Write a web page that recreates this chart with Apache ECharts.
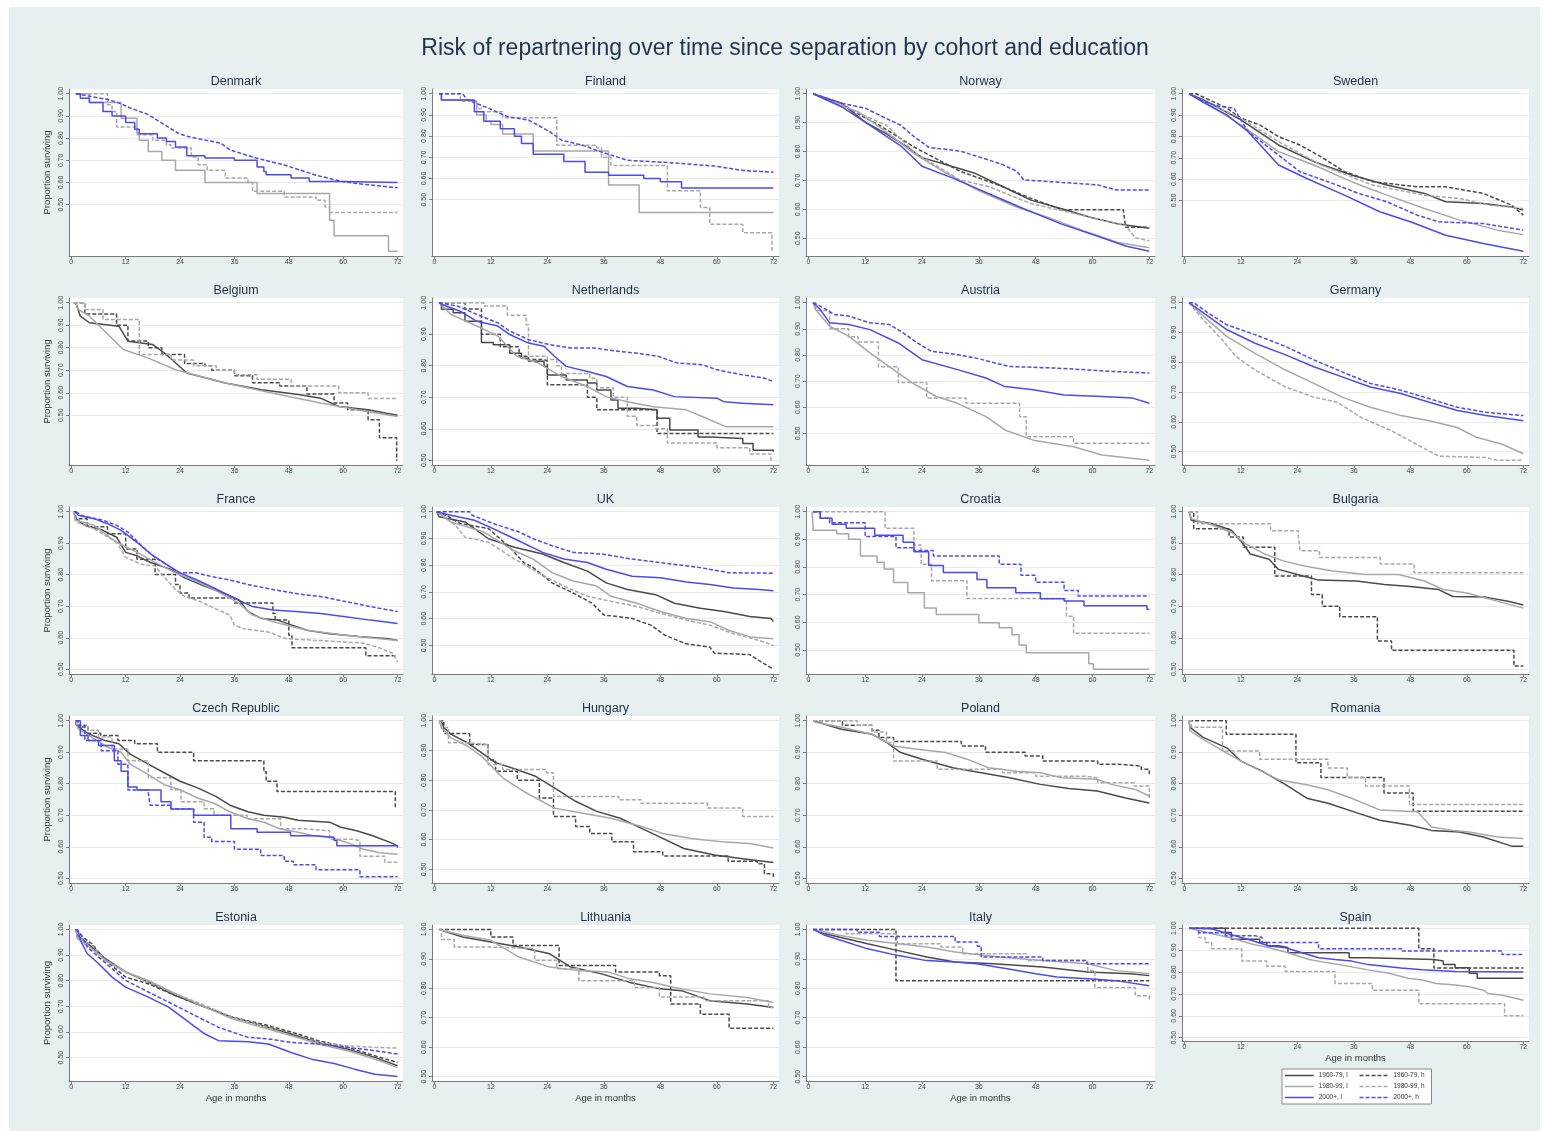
<!DOCTYPE html>
<html>
<head>
<meta charset="utf-8">
<script src="https://cdn.jsdelivr.net/npm/echarts@6/dist/echarts.min.js"></script>
<style>
  html, body { margin: 0; padding: 0; background: #ffffff; }
  #bg { position: absolute; left: 9px; top: 7px; width: 1531px; height: 1124px; background: #e8eff1; }
  #chart { position: absolute; left: 0; top: 0; width: 1544px; height: 1132px; }
</style>
</head>
<body>
<div id="bg"></div>
<div id="chart"></div>
<script>
// Kaplan-Meier survival (proportion not yet repartnered), [month, proportion]
// Suffix: 60 = 1960-79, 80 = 1980-99, 00 = 2000+; l = low, h = high education

// Denmark
const dk_80l = [[1,1],[4,.96],[11,.89],[14.5,.82],[15,.79],[17,.74],[20,.70],[23,.655],[29.5,.60],[41,.55],[57,.43],[58,.36],[70,.29],[72,.29]];
const dk_80h = [[1,1],[8,.95],[9,.92],[10,.85],[14.5,.815],[18,.79],[21,.77],[22,.755],[26.5,.715],[28,.68],[30,.655],[34,.62],[39,.60],[40,.56],[47,.535],[54,.52],[56,.49],[57,.465],[72,.465]];
const dk_00l = [[1,1],[2,.98],[4,.96],[7,.92],[9,.90],[12,.87],[14,.84],[15,.82],[19,.80],[21,.785],[23,.76],[25.5,.72],[29.5,.71],[36,.70],[41,.67],[42.5,.65],[43,.635],[48.5,.62],[52.5,.605],[60,.60],[72,.60]];
const dk_00h = [[1,1],[8,.974],[11,.955],[13,.936],[17,.906],[20.5,.861],[23.5,.823],[25.5,.808],[33,.777],[35,.747],[41,.709],[47,.679],[54,.633],[60,.603],[64.5,.592],[72,.576]];

// Finland
const fi_80l = [[1,1],[1.5,.97],[7.5,.965],[9,.90],[11,.87],[12,.855],[14.5,.81],[21,.73],[37,.57],[43.5,.44],[72,.44]];
const fi_80h = [[1,1],[5.5,.965],[9,.93],[10,.915],[14.5,.887],[26,.757],[34.5,.745],[35.5,.70],[37.5,.662],[49.5,.543],[56.5,.464],[58.5,.384],[65.5,.344],[71.7,.257],[72,.257]];
const fi_00l = [[1,1],[1.5,.97],[7.5,.97],[8.5,.915],[10.5,.87],[14,.835],[17,.80],[18.5,.765],[21,.715],[27.5,.68],[32,.63],[37,.615],[44.5,.60],[48,.585],[52.5,.555],[72,.555]];
const fi_00h = [[1,1],[6,1],[7,.971],[11.5,.932],[15.5,.892],[20,.876],[24.5,.821],[27,.781],[31.5,.757],[35.5,.725],[39.5,.697],[41,.686],[50,.675],[59.5,.659],[65.5,.638],[72,.63]];

// Norway
const no_60l = [[1,1],[7,.967],[12,.902],[16.5,.861],[21,.814],[24,.779],[29,.755],[35,.726],[41,.679],[47,.632],[53.5,.602],[59.5,.573],[65.5,.549],[72,.535]];
const no_60h = [[1,1],[7,.965],[11,.925],[15,.891],[22.5,.814],[32,.732],[41,.679],[47,.638],[53.5,.599],[66.5,.599],[67,.538],[72,.538]];
const no_80l = [[1,1],[5,.97],[10.5,.938],[16.5,.867],[22.5,.791],[29,.726],[36.5,.661],[44,.608],[50.5,.573],[58,.526],[65.5,.485],[72,.467]];
const no_80h = [[1,1],[6,.97],[11,.93],[16.5,.891],[22.5,.796],[32,.702],[38,.679],[47,.62],[53.5,.596],[62.5,.561],[67,.544],[69,.502],[72,.491]];
const no_00l = [[1,1],[7,.955],[12,.902],[19.5,.82],[24,.749],[30.5,.708],[38,.655],[45.5,.602],[53.5,.549],[61,.508],[67,.473],[72,.455]];
const no_00h = [[1,1],[7,.967],[12,.95],[16.5,.914],[19.5,.891],[22.5,.849],[25.5,.814],[32,.802],[36.5,.779],[41,.755],[44,.732],[45.5,.702],[53.5,.693],[61,.685],[65,.667],[72,.667]];

// Sweden
const se_60l = [[1,1],[4,.972],[12,.878],[20,.76],[27.5,.682],[35.5,.619],[43,.572],[51,.533],[55.5,.494],[63.5,.486],[69.5,.47],[72,.455]];
const se_60h = [[1,1],[2.5,1],[9,.933],[12,.886],[16,.854],[20,.799],[24.5,.76],[29,.705],[34,.635],[40,.588],[49.5,.564],[55.5,.564],[63.5,.533],[69.5,.478],[72,.431]];
const se_80l = [[1,1],[5,.95],[12,.854],[20,.729],[27.5,.666],[35.5,.588],[43,.525],[51,.462],[58.5,.408],[66.5,.361],[72,.34]];
const se_80h = [[1,1],[5,.955],[12,.886],[20,.776],[29,.666],[40,.572],[51,.525],[58.5,.509],[65,.478],[72,.462]];
const se_00l = [[1,1],[4,.96],[9,.901],[13.5,.823],[20,.666],[26,.603],[34,.525],[41.5,.447],[48,.40],[55.5,.337],[63.5,.298],[72,.262]];
const se_00h = [[1,1],[4,.965],[7.5,.94],[10.5,.933],[13.5,.823],[20,.713],[24.5,.635],[30.5,.588],[37,.533],[43,.494],[49.5,.431],[54,.40],[63.5,.392],[72,.361]];

// Belgium
const be_60l = [[1,1],[2,.94],[4,.911],[10.5,.896],[12.5,.829],[18,.814],[21,.769],[25.5,.688],[34,.643],[42,.613],[50.5,.591],[55,.576],[59,.539],[65.5,.524],[69.5,.509],[72,.50]];
const be_60h = [[0.5,1],[3,.95],[10,.90],[12.5,.83],[17,.80],[20,.77],[25,.73],[29.5,.72],[31,.70],[36,.675],[40,.645],[46,.63],[52,.595],[58,.555],[61,.525],[65.5,.48],[68,.40],[71.8,.30],[72,.30]];
const be_80l = [[1,1],[1.5,.97],[4,.94],[11.5,.792],[17,.754],[23,.702],[34,.643],[44.5,.598],[55,.554],[65.5,.516],[72,.494]];
const be_80h = [[0.5,1],[3,.97],[7,.926],[15,.77],[22,.745],[27,.72],[32,.70],[36,.68],[41,.66],[48.5,.63],[59,.60],[65.5,.575],[72,.575]];

// Netherlands
const nl_60l = [[1,1],[1.5,.979],[4,.968],[6.5,.941],[10,.874],[12.5,.867],[16,.84],[18.5,.824],[20,.814],[23.3,.798],[24,.771],[28,.755],[32.5,.745],[34.5,.723],[37.5,.691],[39,.665],[43,.66],[47.3,.633],[50,.596],[56,.574],[58.5,.569],[65.5,.553],[67.7,.532],[72,.527]];
const nl_60h = [[1,1],[6.5,.98],[10,.90],[14,.86],[18,.83],[20,.82],[23.3,.815],[24,.74],[32,.74],[32.5,.70],[34.5,.66],[44.5,.66],[47.3,.585],[72,.585]];
const nl_80l = [[1,1],[3.5,.963],[9,.926],[13.5,.894],[17.5,.83],[22,.809],[27,.766],[32.5,.734],[36.5,.702],[41,.686],[46.5,.67],[53.5,.66],[57,.638],[62,.606],[72,.606]];
const nl_80h = [[1,1],[10.5,.99],[15.5,.96],[19.5,.93],[20,.83],[24,.82],[26,.80],[27,.775],[33,.76],[34.5,.73],[38,.70],[41,.64],[43,.61],[47,.60],[49.5,.555],[60,.54],[67,.52],[71.5,.50],[72,.50]];
const nl_00l = [[1,1],[1.5,.995],[5.5,.973],[9,.941],[13.5,.926],[16,.899],[20,.872],[23.3,.862],[25.5,.83],[28,.798],[32.5,.782],[36.5,.766],[41,.734],[46.5,.723],[51,.702],[60,.697],[61.5,.686],[65.5,.681],[72,.676]];
const nl_00h = [[1,1],[5,.989],[9,.963],[13.5,.936],[16,.91],[20,.883],[24.5,.867],[29,.856],[34,.856],[39,.846],[43,.84],[47.5,.83],[51.5,.809],[57,.803],[60,.787],[65.5,.771],[70,.761],[72,.75]];

// Austria
const at_80l = [[1,1],[1.5,.974],[4.5,.91],[8.5,.872],[13,.808],[17,.756],[22,.692],[27,.641],[31.5,.615],[37.5,.564],[41.5,.513],[47.5,.474],[56,.449],[62,.417],[72,.397]];
const at_80h = [[1,1],[1.5,.97],[4.5,.90],[8.5,.87],[10.5,.85],[14.8,.755],[19,.695],[25,.635],[33.3,.615],[44.6,.564],[46,.487],[56,.462],[72,.462]];
const at_00l = [[1,1],[2.5,.974],[4.5,.923],[8.5,.917],[13,.897],[19,.846],[24,.782],[31.5,.744],[37.5,.712],[41.5,.679],[47.5,.667],[54,.647],[62,.641],[68.5,.635],[72,.615]];
const at_00h = [[1,1],[2.5,.987],[5.5,.955],[8.5,.949],[13,.923],[17,.917],[20,.885],[23,.846],[26,.814],[31.5,.801],[35.5,.788],[39.5,.769],[42.5,.756],[52,.75],[58,.744],[64,.737],[72,.731]];

// Germany
const de_80l = [[1,1],[4,.955],[9,.887],[15,.83],[21.5,.774],[27.5,.729],[33.5,.683],[39.5,.649],[46,.621],[52,.604],[58,.581],[62,.548],[67.5,.525],[72,.493]];
const de_80h = [[1,1],[4,.943],[8,.876],[11,.819],[15,.774],[21.5,.717],[27.5,.683],[32.5,.666],[37.5,.615],[44,.57],[50,.519],[54,.485],[64,.48],[66.5,.471],[72,.471]];
const de_00l = [[1,1],[5,.955],[9,.91],[15,.864],[21.5,.825],[27.5,.785],[33.5,.751],[39.5,.717],[46,.695],[52,.666],[58,.638],[64,.621],[72,.604]];
const de_00h = [[1,1],[2,1],[5,.966],[9,.926],[15,.893],[21.5,.853],[27.5,.808],[33.5,.768],[39.5,.729],[46,.706],[52,.678],[58,.649],[64,.632],[72,.621]];

// France
const fr_60l = [[0.5,1],[1,.978],[3,.957],[7,.941],[10,.919],[12,.871],[14.5,.86],[17.5,.839],[22,.817],[25,.79],[29.5,.763],[33.5,.742],[37,.72],[39,.683],[42,.661],[45.5,.656],[52,.624],[57,.613],[63.5,.604],[70,.597],[72,.591]];
const fr_60h = [[0.5,1],[1,.978],[3.5,.952],[8,.93],[12,.882],[14.5,.849],[18.5,.801],[23,.769],[24,.742],[26,.726],[36,.71],[44.5,.677],[45,.656],[48,.608],[48.7,.568],[65,.543],[72,.543]];
const fr_80l = [[0.5,1],[1,.973],[5,.957],[10,.903],[14.5,.871],[18.5,.839],[23,.806],[27.5,.78],[31.5,.753],[37,.71],[40,.672],[44.5,.651],[52,.624],[60.5,.608],[72,.591]];
const fr_80h = [[0.5,1],[1,.968],[5,.946],[10,.903],[12,.855],[15.5,.833],[18.5,.828],[20,.801],[23,.753],[25,.731],[28.5,.715],[31.5,.694],[35,.672],[36,.64],[38,.629],[43.5,.618],[47.5,.597],[55,.591],[64.5,.583],[68,.568],[71,.55],[72,.522]];
const fr_00l = [[1,1],[1.5,.989],[5,.978],[8,.962],[11,.941],[14.5,.903],[17.5,.866],[21,.833],[24,.806],[27.5,.785],[31.5,.758],[36,.726],[40,.699],[44.5,.688],[49.5,.683],[55,.677],[60.5,.667],[66,.656],[72,.645]];
const fr_00h = [[1,1],[2.5,.987],[7,.973],[10,.957],[12.5,.935],[15.5,.892],[18.5,.855],[22,.823],[24,.806],[27.5,.806],[30.5,.796],[36,.78],[39,.769],[44.5,.753],[51,.737],[55,.731],[60.5,.715],[66,.699],[72,.683]];

// UK
const uk_60l = [[0.5,1],[1,.981],[6.5,.962],[11.5,.899],[17,.867],[23,.842],[27.5,.81],[32.5,.778],[36.5,.734],[41,.709],[47,.69],[51,.658],[56.5,.639],[61.5,.627],[67,.608],[71.5,.601],[72,.59]];
const uk_60h = [[0.5,1],[2.5,.987],[5.5,.956],[11.5,.937],[16,.867],[19,.81],[21,.791],[25,.734],[29.5,.696],[33.5,.658],[36,.614],[42,.601],[46,.576],[49,.538],[53.5,.506],[58.5,.494],[59.5,.471],[67,.466],[69,.443],[72,.411]];
const uk_80l = [[0.5,1],[3.5,.962],[10.5,.924],[17,.854],[21,.823],[25,.772],[29.5,.741],[34.5,.722],[37.5,.684],[43,.658],[48,.627],[53.5,.601],[58.5,.589],[62.5,.557],[67,.532],[72,.525]];
const uk_80h = [[0.5,1],[4.5,.949],[6.5,.905],[11.5,.886],[17,.823],[22,.772],[27.5,.722],[32.5,.684],[37.5,.665],[43,.646],[48,.62],[53.5,.595],[58.5,.576],[63.5,.544],[69,.519],[72,.50]];
const uk_00l = [[0.5,1],[3.5,.987],[8.5,.968],[12.5,.937],[17,.899],[23,.848],[27.5,.823],[32.5,.81],[36.5,.785],[42,.759],[48,.753],[53.5,.737],[58.5,.728],[63.5,.715],[69,.709],[72,.705]];
const uk_00h = [[0.5,1],[7.5,1],[8,.987],[12.5,.956],[18,.924],[21,.899],[25,.873],[29.5,.848],[35.5,.842],[42,.823],[48,.81],[56.5,.791],[62.5,.772],[72,.77]];

// Croatia
const hr_80l = [[0.8,1],[1,.933],[6,.92],[8.5,.90],[11,.84],[14.5,.817],[16,.793],[18,.744],[21,.707],[24.5,.652],[27,.628],[36,.598],[40.3,.58],[43,.555],[44.5,.518],[46,.49],[59.2,.45],[60.2,.43],[72,.43]];
const hr_80h = [[1,1],[16.2,.94],[22.3,.88],[23.8,.81],[26,.75],[33.5,.686],[54.5,.622],[56,.56],[72,.56]];
const hr_00l = [[1,1],[2.5,.976],[5,.955],[8,.94],[14,.915],[20,.89],[22.3,.855],[25.4,.805],[28.5,.78],[35.6,.755],[37.7,.725],[43.8,.707],[49,.685],[54,.677],[58.2,.66],[71.5,.647],[72,.647]];
const hr_00h = [[1,1],[2.5,.976],[4.5,.96],[12,.91],[18.5,.87],[22.3,.86],[26.4,.84],[40.3,.81],[44.9,.77],[48,.745],[54,.715],[57,.695],[72,.695]];

// Bulgaria
const bg_60l = [[1,1],[1.5,.973],[6,.962],[10,.941],[12.5,.898],[14,.866],[18,.849],[20,.817],[24,.801],[28.5,.783],[36.5,.78],[42.5,.769],[48,.763],[54,.753],[57,.731],[64,.729],[69,.715],[72,.704]];
const bg_60h = [[1,1],[2,.946],[9.5,.92],[12.5,.887],[19.2,.796],[27,.737],[29.3,.70],[33,.667],[41,.59],[44,.56],[70,.51],[72,.51]];
const bg_80l = [[1,1],[1.5,.978],[6,.957],[10,.935],[13,.898],[17,.866],[21,.844],[25.5,.828],[31.5,.812],[38.5,.801],[45.5,.801],[51,.78],[55,.753],[60,.742],[64,.726],[68,.71],[72,.694]];
const bg_80h = [[1,1],[2.8,.962],[18.3,.94],[24.2,.92],[24.6,.876],[28.7,.855],[41.6,.834],[48.8,.806],[72,.806]];

// Czech Republic
const cz_60l = [[1,1],[1.1,.986],[3.7,.959],[7.5,.937],[10.5,.927],[13,.894],[17,.862],[20.5,.835],[24,.808],[28,.786],[32,.759],[35,.732],[39,.711],[42.5,.70],[47,.694],[50,.684],[57,.678],[59.5,.662],[63,.651],[66.5,.635],[70.5,.613],[72,.603]];
const cz_60h = [[1,1],[1.5,.98],[3.7,.96],[6.5,.953],[10.3,.937],[14,.927],[19,.90],[27,.873],[42.5,.838],[43,.808],[45.4,.775],[71,.775],[71.5,.727],[72,.727]];
const cz_80l = [[1,1],[1.5,.975],[4.5,.948],[8,.916],[11,.90],[13,.862],[17,.829],[20.5,.797],[24,.781],[28,.754],[31.5,.738],[35,.711],[39,.689],[42.5,.678],[46,.657],[50,.646],[53.5,.635],[57,.63],[61,.613],[64.5,.592],[68,.581],[72,.576]];
const cz_80h = [[1,1],[1.5,.986],[3.7,.97],[6,.948],[9,.91],[12.5,.873],[17,.819],[22,.781],[24.2,.743],[29.3,.721],[31.5,.70],[38.8,.689],[46.2,.657],[51.3,.651],[57,.624],[62.3,.619],[63.7,.57],[69.2,.551],[72,.551]];
const cz_00l = [[1,1],[2,.953],[3.7,.937],[6,.921],[9.5,.873],[11,.84],[12.5,.79],[14.5,.78],[19.8,.743],[22,.72],[27,.70],[35.2,.657],[41,.646],[48.4,.635],[53.5,.63],[58,.62],[58.6,.603],[72,.597]];
const cz_00h = [[1,1],[1.5,.986],[3,.937],[6.6,.905],[10.3,.862],[12.5,.78],[17,.77],[17.4,.732],[22,.72],[27,.678],[29.3,.63],[31,.617],[36,.592],[41.8,.572],[47,.554],[49,.543],[54,.527],[63.7,.505],[72,.503]];

// Hungary
const hu_60l = [[1,1],[1.5,.998],[2,.977],[3.5,.955],[7,.926],[10,.893],[13,.859],[17.5,.836],[21.5,.813],[25.5,.774],[30,.729],[34.5,.695],[39.5,.672],[44,.638],[48.5,.604],[53,.57],[59.5,.548],[65.5,.536],[72,.523]];
const hu_60h = [[1,1],[2,.957],[6.8,.955],[7.5,.92],[11.4,.868],[13,.83],[17.6,.80],[22.3,.74],[25.3,.678],[30,.644],[33,.621],[37.7,.593],[42.3,.559],[48.5,.545],[62.4,.527],[68.6,.519],[70.1,.485],[72,.47]];
const hu_80l = [[1,1],[1.5,.977],[3.5,.943],[7,.915],[10,.881],[14.5,.808],[19,.762],[25.5,.706],[31.5,.689],[37.5,.672],[44,.644],[48.5,.621],[54.5,.604],[61,.593],[67,.587],[72,.572]];
const hu_80h = [[1,1],[1.5,.977],[3,.926],[6.8,.92],[11.4,.853],[14.5,.836],[23.8,.825],[25.3,.745],[39.2,.734],[43.9,.722],[58,.706],[65.5,.678],[72,.678]];

// Poland
const pl_60l = [[1,1],[7,.973],[13.5,.957],[16.5,.931],[19.5,.899],[24,.878],[30.5,.851],[36.5,.835],[42.5,.819],[49,.798],[55,.785],[61,.777],[67,.755],[72,.739]];
const pl_60h = [[1,1],[7.2,.986],[13.4,.97],[14.9,.947],[18,.934],[32.3,.92],[37.4,.90],[45.8,.888],[49.5,.872],[61.1,.862],[65.7,.856],[70.3,.846],[72,.83]];
const pl_80l = [[1,1],[1.5,.995],[7,.979],[13.5,.957],[18,.92],[22.5,.91],[29,.899],[33.5,.878],[38,.851],[44,.84],[49,.835],[53.5,.819],[61,.814],[64,.798],[69,.782],[72,.761]];
const pl_80h = [[1,1],[10.3,.986],[13.4,.964],[16.5,.931],[18,.872],[27.2,.846],[41,.835],[48,.824],[58.5,.819],[61.1,.803],[68.8,.793],[72,.755]];

// Romania
const ro_60l = [[1,1],[1.2,.979],[4,.947],[9,.914],[12,.872],[16.5,.84],[21.5,.797],[26,.754],[30.5,.738],[37,.706],[41.5,.684],[48,.668],[52.5,.652],[58.5,.647],[63.5,.631],[69.5,.602],[72,.602]];
const ro_60h = [[1,1],[8.9,.957],[23.7,.867],[29,.82],[42.4,.771],[48.6,.713],[72,.713]];
const ro_80l = [[1,1],[1.2,.968],[4,.941],[12,.872],[20,.813],[26,.797],[30.5,.781],[35.5,.754],[41.5,.717],[49.5,.711],[52.5,.663],[57,.652],[60.5,.647],[66.5,.631],[72,.626]];
const ro_80h = [[1,1],[1.5,.979],[8.1,.904],[16,.878],[30.5,.85],[34.6,.82],[38.5,.793],[47.8,.734],[72,.734]];

// Estonia
const ee_60l = [[1,1],[1.3,.978],[4.5,.932],[7.5,.886],[12,.834],[17,.795],[23,.742],[29.5,.697],[35.5,.658],[42,.625],[48.5,.592],[54.5,.559],[61,.533],[67,.501],[72,.468]];
const ee_60h = [[1,1],[2.5,.971],[4.5,.945],[7.5,.88],[12,.814],[17,.788],[23,.742],[29.5,.697],[35.5,.658],[43.5,.625],[50,.592],[54.5,.566],[61,.54],[67,.507],[72,.481]];
const ee_80l = [[1,1],[1.3,.965],[4.5,.925],[7.5,.88],[12,.834],[17,.801],[23,.749],[29.5,.697],[35.5,.651],[42,.618],[48.5,.586],[54.5,.553],[61,.527],[67,.494],[72,.461]];
const ee_80h = [[1,1],[1.3,.971],[4.5,.939],[7.5,.88],[12,.834],[17,.795],[23,.749],[29.5,.703],[35.5,.658],[42,.625],[48.5,.586],[54.5,.559],[61,.546],[67,.54],[72,.537]];
const ee_00l = [[1,1],[1.5,.997],[2,.958],[3.5,.906],[6,.867],[9,.814],[12,.775],[17,.736],[21.5,.697],[26.5,.631],[29.5,.592],[32.5,.566],[39,.562],[43.5,.553],[48.5,.52],[53,.494],[58,.477],[62.5,.455],[67,.435],[72,.426]];
const ee_00h = [[1,1],[2,.984],[3.5,.932],[6,.893],[9,.847],[12,.801],[17,.756],[23,.703],[28,.658],[32.5,.618],[39,.579],[43.5,.573],[48.5,.559],[54.5,.553],[61,.54],[67,.527],[72,.514]];

// Lithuania
const lt_60l = [[1,1],[1.5,.997],[6,.974],[12,.957],[18,.94],[24.5,.917],[29,.872],[35.5,.849],[41.5,.82],[48,.798],[52.5,.792],[58.5,.758],[66.5,.747],[72,.735]];
const lt_60h = [[1,1],[12,.974],[16.7,.945],[26.5,.877],[38.5,.855],[47.8,.843],[50.2,.747],[56.5,.712],[62.6,.664],[72,.664]];
const lt_80l = [[1,1],[1.5,.997],[6,.98],[12,.963],[18,.906],[24.5,.872],[30.5,.86],[37,.855],[41.5,.832],[46.5,.82],[51,.803],[58.5,.781],[66.5,.769],[72,.752]];
const lt_80h = [[1,1],[1.5,.966],[4.2,.94],[12,.935],[21.3,.895],[26,.866],[30.7,.826],[42.5,.803],[47.8,.77],[57.3,.758],[71,.735],[72,.735]];

// Italy
const it_60l = [[1,1],[3.5,.985],[8,.968],[12.5,.951],[19,.928],[25,.906],[31,.889],[39,.883],[49.5,.872],[59,.855],[68,.849],[72,.843]];
const it_60h = [[1,1],[18.5,.826],[72,.826]];
const it_80l = [[1,1],[6.5,.98],[12.5,.963],[19,.951],[25,.94],[31,.923],[40.5,.906],[49.5,.894],[59,.883],[65,.86],[72,.849]];
const it_80h = [[1,1],[8,.985],[18.8,.951],[28,.94],[32.6,.917],[46,.894],[59,.86],[60.5,.803],[69,.775],[72,.758]];
const it_00l = [[1,1],[3.5,.98],[8,.957],[12.5,.934],[19,.911],[25,.894],[31,.889],[35.5,.883],[42,.866],[48,.849],[52.5,.838],[59,.832],[65,.826],[72,.809]];
const it_00h = [[1,1],[10.3,.99],[15,.976],[31,.957],[35.7,.943],[36.5,.906],[49.5,.894],[58.8,.883],[72,.88]];

// Spain
const es_60l = [[1,1],[8.7,.981],[10,.95],[16,.935],[17.5,.92],[20,.912],[22,.888],[35,.865],[39,.857],[53,.85],[55,.834],[57.5,.82],[60.5,.795],[62.2,.772],[72,.772]];
const es_60h = [[1,1],[49.8,.907],[53,.818],[72,.818]];
const es_80l = [[1,1],[9.5,.958],[14.5,.927],[18,.911],[22,.888],[26.5,.857],[30.5,.842],[35,.826],[39,.81],[43.5,.795],[47.5,.772],[50.5,.764],[53.5,.748],[57.5,.741],[60.5,.733],[63.5,.717],[64.5,.702],[67.5,.694],[70.5,.679],[72,.671]];
const es_80h = [[1,1],[3,.958],[4.4,.935],[5.8,.907],[12.2,.85],[17.5,.826],[21.4,.803],[32,.748],[39.9,.717],[49.8,.655],[68,.60],[72,.60]];
const es_00l = [[1,1],[6,.997],[9.5,.974],[14.5,.943],[18,.919],[21.5,.911],[25,.888],[28.5,.865],[32,.857],[35.5,.85],[39,.834],[42.5,.826],[46,.818],[50.5,.81],[57.5,.803],[72,.80]];
const es_00h = [[1,1],[3,.98],[8.7,.966],[15,.958],[16.5,.935],[28.5,.907],[46.3,.896],[67.5,.88],[72,.88]];

// Axis ticks
const yTicks = [0.5, 0.6, 0.7, 0.8, 0.9, 1.0];
const xTicks = [0, 12, 24, 36, 48, 60, 72];

// Series labels (cohort, education)
const cohortNames = ['1960-79, l', '1960-79, h', '1980-99, l', '1980-99, h', '2000+, l', '2000+, h'];

// Panels in reading order: [country, [[cohort index, data, drawn as steps]]]
const S = true, P = false;
const panels = [
  ['Denmark', [[2, dk_80l, S], [3, dk_80h, S], [4, dk_00l, S], [5, dk_00h, P]]],
  ['Finland', [[2, fi_80l, S], [3, fi_80h, S], [4, fi_00l, S], [5, fi_00h, P]]],
  ['Norway', [[0, no_60l, P], [1, no_60h, P], [2, no_80l, P], [3, no_80h, P], [4, no_00l, P], [5, no_00h, P]]],
  ['Sweden', [[0, se_60l, P], [1, se_60h, P], [2, se_80l, P], [3, se_80h, P], [4, se_00l, P], [5, se_00h, P]]],
  ['Belgium', [[0, be_60l, P], [1, be_60h, S], [2, be_80l, P], [3, be_80h, S]]],
  ['Netherlands', [[0, nl_60l, S], [1, nl_60h, S], [2, nl_80l, P], [3, nl_80h, S], [4, nl_00l, P], [5, nl_00h, P]]],
  ['Austria', [[2, at_80l, P], [3, at_80h, S], [4, at_00l, P], [5, at_00h, P]]],
  ['Germany', [[2, de_80l, P], [3, de_80h, P], [4, de_00l, P], [5, de_00h, P]]],
  ['France', [[0, fr_60l, P], [1, fr_60h, S], [2, fr_80l, P], [3, fr_80h, P], [4, fr_00l, P], [5, fr_00h, P]]],
  ['UK', [[0, uk_60l, P], [1, uk_60h, P], [2, uk_80l, P], [3, uk_80h, P], [4, uk_00l, P], [5, uk_00h, P]]],
  ['Croatia', [[2, hr_80l, S], [3, hr_80h, S], [4, hr_00l, S], [5, hr_00h, S]]],
  ['Bulgaria', [[0, bg_60l, P], [1, bg_60h, S], [2, bg_80l, P], [3, bg_80h, S]]],
  ['Czech Republic', [[0, cz_60l, P], [1, cz_60h, S], [2, cz_80l, P], [3, cz_80h, S], [4, cz_00l, S], [5, cz_00h, S]]],
  ['Hungary', [[0, hu_60l, P], [1, hu_60h, S], [2, hu_80l, P], [3, hu_80h, S]]],
  ['Poland', [[0, pl_60l, P], [1, pl_60h, S], [2, pl_80l, P], [3, pl_80h, S]]],
  ['Romania', [[0, ro_60l, P], [1, ro_60h, S], [2, ro_80l, P], [3, ro_80h, S]]],
  ['Estonia', [[0, ee_60l, P], [1, ee_60h, P], [2, ee_80l, P], [3, ee_80h, P], [4, ee_00l, P], [5, ee_00h, P]]],
  ['Lithuania', [[0, lt_60l, P], [1, lt_60h, S], [2, lt_80l, P], [3, lt_80h, S]]],
  ['Italy', [[0, it_60l, P], [1, it_60h, S], [2, it_80l, P], [3, it_80h, S], [4, it_00l, P], [5, it_00h, S]]],
  ['Spain', [[0, es_60l, S], [1, es_60h, S], [2, es_80l, P], [3, es_80h, S], [4, es_00l, P], [5, es_00h, S]]]
];

// Styling
const FONT = '"Liberation Sans", Arial, sans-serif';
const DARK = '#4a4a4a', LIGHT = '#a8a8a8', BLUE = '#4b4bef';
const lineLook = [
  { color: DARK, type: 'solid' }, { color: DARK, type: [4, 2] },
  { color: LIGHT, type: 'solid' }, { color: LIGHT, type: [4, 2] },
  { color: BLUE, type: 'solid' }, { color: BLUE, type: [4, 2] }
];
const AXIS = '#7c7c7c';

// Panel layout (pixels)
const colLeft = [69, 432, 806, 1182];
const colWidth = [334, 347, 349, 347];
const rowTop = [89, 298, 507, 716, 925];
const rowHeight = [167, 167, 167, 167, 156];

const grids = [], xAxes = [], yAxes = [], series = [];
const graphics = [{
  type: 'text', x: 785, y: 49,
  style: { text: 'Risk of repartnering over time since separation by cohort and education',
           font: '23px ' + FONT, fill: '#22374f', align: 'center', verticalAlign: 'middle' }
}];

panels.forEach(([country, lines], i) => {
  const row = Math.floor(i / 4), col = i % 4;
  const left = colLeft[col], top = rowTop[row], width = colWidth[col];
  const height = country === 'Spain' ? 116 : rowHeight[row];
  let lo = 0.5;
  lines.forEach(l => l[1].forEach(p => { if (p[1] < lo) lo = p[1]; }));
  const pad = 0.03 * (1 - lo);
  const lastRow = row === 4;

  grids.push({ left, top, width, height, show: true, backgroundColor: '#ffffff', borderWidth: 0 });

  xAxes.push({
    gridIndex: i, type: 'value', min: -0.5, max: 73.2,
    axisLine: { show: true, onZero: false, lineStyle: { color: AXIS, width: 1 } },
    axisTick: { show: true, length: 3, customValues: xTicks, lineStyle: { color: AXIS } },
    axisLabel: { customValues: xTicks, fontSize: 7, color: '#444', margin: 3, fontFamily: FONT },
    splitLine: { show: false },
    name: lastRow ? 'Age in months' : '', nameLocation: 'middle', nameGap: 12,
    nameTextStyle: { fontSize: 9.5, color: '#333', fontFamily: FONT }
  });

  yAxes.push({
    gridIndex: i, type: 'value', min: lo - pad, max: 1 + pad,
    axisLine: { show: true, onZero: false, lineStyle: { color: AXIS, width: 1 } },
    axisTick: { show: true, length: 3, customValues: yTicks, lineStyle: { color: AXIS } },
    axisLabel: { customValues: yTicks, rotate: 90, fontSize: 7, color: '#444', margin: 4,
                 fontFamily: FONT, formatter: v => v.toFixed(2) },
    splitLine: { show: true, lineStyle: { color: '#e6ebee', width: 1 } },
    name: col === 0 ? 'Proportion surviving' : '', nameLocation: 'middle', nameGap: 17,
    nameTextStyle: { fontSize: 9.5, color: '#333', fontFamily: FONT }
  });

  graphics.push({
    type: 'text', x: left + width / 2, y: top - 7,
    style: { text: country, font: '12.5px ' + FONT, fill: '#1f2f45', align: 'center', verticalAlign: 'middle' }
  });

  lines.slice().sort((a, b) => a[0] - b[0]).forEach(([k, data, stepped]) => {
    series.push({
      type: 'line', name: cohortNames[k], xAxisIndex: i, yAxisIndex: i,
      data, step: stepped ? 'end' : false, symbol: 'none', showSymbol: false,
      lineStyle: { color: lineLook[k].color, type: lineLook[k].type, width: 1.5 },
      itemStyle: { color: lineLook[k].color },
      silent: true, animation: false, z: 2 + k
    });
  });
});

const chart = echarts.init(document.getElementById('chart'), null, { renderer: 'canvas' });
chart.setOption({
  backgroundColor: 'transparent',
  animation: false,
  textStyle: { fontFamily: FONT },
  grid: grids, xAxis: xAxes, yAxis: yAxes, series,
  legend: {
    data: cohortNames, left: 1282, top: 1069, width: 146,
    itemWidth: 29, itemHeight: 6, itemGap: 4, padding: [3, 2],
    backgroundColor: '#ffffff', borderColor: '#8a8a8a', borderWidth: 1, borderRadius: 0,
    selectedMode: false,
    // line-only keys: the point marker drawn in the middle of each key is hidden
    itemStyle: { opacity: 0, borderWidth: 0 },
    lineStyle: { width: 1.5 },
    textStyle: { fontSize: 6.5, color: '#333', width: 36, lineHeight: 6, fontFamily: FONT }
  },
  graphic: graphics
});
</script>
</body>
</html>
